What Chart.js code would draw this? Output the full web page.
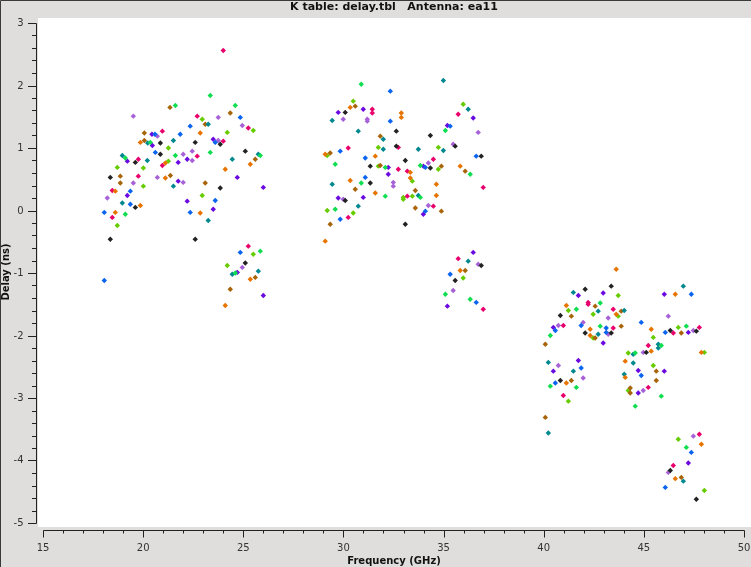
<!DOCTYPE html>
<html>
<head>
<meta charset="utf-8">
<script src="https://cdn.jsdelivr.net/npm/chart.js@4/dist/chart.umd.min.js"></script>
<style>
  html, body { margin: 0; padding: 0; background: #dfdedd; }
  #wrap { width: 751px; height: 567px; }
</style>
</head>
<body>
<div id="wrap"><canvas id="c" width="751" height="567"></canvas></div>
<script>
// ---------------- data ----------------
const chartTitle = "K table: delay.tbl   Antenna: ea11";
const xTitle = "Frequency (GHz)";
const yTitle = "Delay (ns)";
const xTickLabels = [15, 20, 25, 30, 35, 40, 45, 50];
const yTickLabels = [-5, -4, -3, -2, -1, 0, 1, 2, 3];

const blueFreq  = [24.85,22.35,20.59,21.85,23.60,20.61,19.36,19.36,23.60,18.06,22.35,24.85,18.06,
                   32.34,32.34,35.33,29.84,31.09,36.63,34.09,31.09,34.09,29.84,35.33,36.63,
                   41.87,40.58,43.12,43.12,44.87,47.37,46.07,44.87,41.87,40.58,47.37,46.07];
const blueDelay = [1.49,1.35,1.22,1.22,1.09,0.93,0.31,0.10,0.16,-0.03,-0.03,-0.67,-1.12,
                   1.91,1.43,1.35,0.95,0.84,0.87,0.69,0.53,-0.01,-0.14,-1.02,-1.47,
                   -1.84,-1.92,-1.88,-1.95,-1.79,-1.34,-1.95,-2.64,-2.52,-2.76,-3.87,-4.43];

const orangeFreq  = [22.85,19.86,21.11,25.35,24.10,21.11,18.61,19.86,18.61,22.85,25.35,24.10,
                     30.34,32.89,32.89,29.09,31.59,33.34,35.83,30.34,33.34,34.64,31.59,34.64,29.09,35.83,
                     43.62,41.13,43.62,42.32,42.32,45.37,45.37,46.57,47.87,44.07,44.07,41.13,47.87,46.57];
const orangeDelay = [1.24,1.09,0.76,0.74,0.66,0.52,0.31,0.08,-0.03,-0.04,-1.10,-1.52,
                     1.65,1.56,1.49,0.90,0.87,0.61,0.71,0.48,0.52,0.42,0.28,0.24,-0.49,-0.96,
                     -0.94,-1.52,-1.66,-1.90,-2.00,-1.90,-2.25,-1.34,-2.27,-2.41,-2.67,-2.76,-3.74,-4.29];

const blackFreq  = [20.86,22.60,23.85,20.86,25.10,19.61,18.36,23.85,19.61,18.36,22.60,25.10,
                    30.09,32.64,34.34,32.64,35.58,33.09,36.88,31.34,34.34,31.34,30.09,33.09,36.88,35.58,
                    42.07,43.37,40.83,43.37,42.07,45.12,46.32,47.62,40.83,46.32,47.62];
const blackDelay = [1.08,1.09,1.06,0.90,0.95,0.77,0.53,0.36,0.05,-0.46,-0.46,-0.84,
                    1.57,1.27,1.20,1.03,1.03,0.80,0.87,0.71,0.68,0.44,0.16,-0.22,-0.88,-1.12,
                    -1.26,-1.21,-1.68,-1.96,-1.96,-2.27,-1.92,-1.93,-2.72,-4.16,-4.62];

const greenFreq  = [23.35,21.61,24.60,20.36,21.61,23.35,25.85,19.11,19.11,25.85,24.60,
                    30.89,35.09,29.59,32.09,33.84,36.33,30.89,32.09,33.84,29.59,35.09,36.33,
                    41.63,42.82,42.82,40.33,45.87,44.57,47.12,45.87,44.57,40.33,41.63,47.12];
const greenDelay = [1.84,1.68,1.68,1.09,0.88,0.93,0.88,0.84,-0.06,-0.65,-1.00,
                    2.02,1.28,0.74,0.69,0.72,0.58,0.44,0.23,0.21,0.02,-1.34,-1.42,
                    -1.58,-1.48,-1.85,-2.00,-2.16,-2.28,-1.85,-2.97,-3.13,-2.81,-2.83,-3.79];

const pinkFreq  = [24.00,22.70,25.25,20.96,24.00,22.70,19.76,20.96,19.76,18.46,18.46,25.25,
                   31.44,31.44,35.73,30.24,32.74,34.49,32.74,33.19,36.98,33.19,34.49,30.24,35.73,36.98,
                   42.22,42.22,43.47,40.98,43.47,45.22,46.47,47.77,45.22,40.98,47.77,46.47];
const pinkDelay = [2.56,1.51,1.32,1.27,1.11,0.87,0.82,0.72,0.55,0.32,-0.11,-0.57,
                   1.62,1.56,1.54,1.00,1.01,0.82,0.66,0.63,0.37,0.23,0.07,-0.11,-0.77,-1.58,
                   -1.47,-1.50,-1.58,-1.84,-1.88,-2.16,-1.96,-1.87,-2.83,-2.96,-3.58,-4.08];

const purpleFreq  = [20.44,20.46,23.50,19.21,21.75,22.20,21.75,24.70,26.00,19.21,22.20,23.50,24.70,26.00,
                     29.74,30.99,36.48,35.19,32.24,33.99,32.24,29.74,30.99,33.99,36.48,35.19,
                     41.73,42.97,40.48,42.97,46.02,47.22,44.72,46.02,44.72,41.73,40.48,47.22];
const purpleDelay = [1.22,1.04,1.14,0.79,0.77,0.82,0.47,0.53,0.37,0.24,0.15,0.02,-0.99,-1.36,
                     1.57,1.62,1.48,1.36,0.69,0.71,0.58,0.20,0.21,-0.06,-0.67,-1.53,
                     -1.36,-1.32,-1.87,-2.12,-1.34,-1.95,-2.56,-2.57,-2.92,-2.40,-2.57,-4.04];

const lavenderFreq  = [19.51,23.75,24.95,20.71,23.75,22.00,22.45,22.45,20.71,22.00,19.51,18.21,24.95,
                       29.99,31.19,31.19,36.73,35.48,34.24,32.49,32.49,29.99,34.24,36.73,35.48,
                       43.22,41.97,40.73,43.22,44.97,46.22,47.47,44.97,40.73,41.97,47.47,46.22];
const lavenderDelay = [1.51,1.49,1.36,1.19,1.12,0.90,0.95,0.80,0.53,0.45,0.44,0.20,-0.91,
                       1.46,1.46,1.43,1.25,1.06,0.76,0.45,0.39,0.18,0.08,-0.86,-1.28,
                       -1.72,-1.79,-1.84,-1.98,-2.27,-1.69,-1.92,-2.88,-2.48,-2.68,-3.61,-4.19];

const tealFreq  = [23.25,20.23,21.51,25.75,24.45,18.96,20.21,21.51,18.96,23.25,24.45,25.75,
                   34.99,36.23,29.44,30.74,31.99,31.99,33.74,34.99,29.44,33.74,30.74,36.23,
                   41.48,42.72,44.02,42.72,45.72,45.72,44.47,46.97,44.47,44.02,40.23,41.48,40.23,46.97];
const tealDelay = [1.38,1.08,1.12,0.90,0.82,0.88,0.80,0.39,0.12,-0.16,-1.02,-0.97,
                   2.08,1.62,1.44,1.27,1.14,0.98,0.98,0.96,0.42,0.24,0.07,-0.81,
                   -1.31,-1.61,-1.60,-1.98,-2.14,-2.20,-2.30,-1.21,-2.44,-2.62,-2.43,-2.57,-3.56,-4.33];

const brownFreq  = [21.34,24.35,23.10,20.06,20.06,25.60,18.86,21.36,23.10,18.86,25.60,24.35,
                    30.59,31.84,29.34,31.84,34.89,36.08,30.59,33.59,33.59,34.89,29.34,36.08,
                    42.57,41.38,43.87,43.87,42.57,40.08,46.87,45.62,45.62,44.32,44.32,41.38,40.08,46.87];
const brownDelay = [1.65,1.56,1.38,1.24,1.12,0.82,0.55,0.56,0.44,0.44,-1.07,-1.26,
                    1.67,1.19,0.92,0.72,0.71,0.63,0.34,0.32,0.04,-0.01,-0.22,-0.96,
                    -1.53,-1.69,-1.61,-1.85,-2.04,-2.14,-1.96,-2.57,-2.72,-2.84,-2.92,-2.72,-3.31,-4.27];

const limeFreq  = [22.95,25.50,24.20,21.26,21.26,18.71,20.01,20.01,22.95,18.71,25.50,24.20,
                   30.49,35.98,31.74,34.74,29.19,31.74,34.74,33.44,32.99,32.99,33.44,29.19,30.49,35.98,
                   43.72,41.23,43.72,42.47,42.47,45.47,44.22,46.72,48.02,45.47,44.22,41.23,46.72,48.02];
const limeDelay = [1.46,1.28,1.25,1.00,0.79,0.69,0.68,0.39,0.24,-0.24,-0.70,-0.88,
                   1.75,1.70,1.01,1.01,0.88,0.71,0.66,0.47,0.21,0.18,0.23,0.00,-0.04,-1.08,
                   -1.36,-1.60,-1.69,-1.66,-2.04,-2.03,-2.28,-1.87,-2.27,-2.48,-2.88,-3.05,-3.66,-4.48];

// ---------------- styling ----------------
const BG = '#dfdedd';
const AXIS = '#222222';
const FONT = '"DejaVu Sans", sans-serif';

const seriesList = [
  {name: 'blue',     freq: blueFreq,     delay: blueDelay,     color: '#0a64f0'},
  {name: 'orange',   freq: orangeFreq,   delay: orangeDelay,   color: '#e87400'},
  {name: 'black',    freq: blackFreq,    delay: blackDelay,    color: '#222222'},
  {name: 'green',    freq: greenFreq,    delay: greenDelay,    color: '#10dd50'},
  {name: 'pink',     freq: pinkFreq,     delay: pinkDelay,     color: '#e8006c'},
  {name: 'purple',   freq: purpleFreq,   delay: purpleDelay,   color: '#6a0ae0'},
  {name: 'lavender', freq: lavenderFreq, delay: lavenderDelay, color: '#a862d8'},
  {name: 'teal',     freq: tealFreq,     delay: tealDelay,     color: '#00888f'},
  {name: 'brown',    freq: brownFreq,    delay: brownDelay,    color: '#a86408'},
  {name: 'lime',     freq: limeFreq,     delay: limeDelay,     color: '#66cc00'}
];

const datasets = seriesList.map(s => ({
  label: s.name,
  data: s.freq.map((f, i) => ({x: f, y: s.delay[i]})),
  pointStyle: 'rectRot',
  pointRadius: 2.7,
  pointBorderWidth: 0,
  backgroundColor: s.color,
  borderColor: s.color,
  showLine: false
}));

const X_MIN = 15, X_MAX = 50, Y_MIN = -5, Y_MAX = 3;

const framePlugin = {
  id: 'frame',
  beforeDraw(chart) {
    const {ctx, chartArea: a, width, height} = chart;
    ctx.save();
    ctx.fillStyle = BG;
    ctx.fillRect(0, 0, width, height);
    ctx.fillStyle = '#ffffff';
    ctx.fillRect(a.left, a.top, a.right - a.left, a.bottom - a.top);
    ctx.strokeStyle = '#3a3a3a';
    ctx.lineWidth = 1;
    ctx.beginPath();
    ctx.moveTo(0.5, height); ctx.lineTo(0.5, 0.5); ctx.lineTo(width, 0.5);
    ctx.stroke();
    ctx.restore();
  },
  afterDraw(chart) {
    const {ctx, chartArea: a} = chart;
    const xs = chart.scales.x, ys = chart.scales.y;
    ctx.save();
    ctx.strokeStyle = AXIS;
    ctx.fillStyle = '#333333';
    ctx.lineWidth = 1;

    // ---- Y axis (left of panel) ----
    const yAxisX = a.left - 1.5;
    const yT = Math.round(ys.getPixelForValue(Y_MAX)) + 0.5;
    const yB = Math.round(ys.getPixelForValue(Y_MIN)) + 0.5;
    ctx.beginPath();
    ctx.moveTo(yAxisX, yT); ctx.lineTo(yAxisX, yB);
    const nMinorY = Math.round((Y_MAX - Y_MIN) / 0.2);
    for (let i = 0; i <= nMinorY; i++) {
      const v = Y_MIN + i * 0.2;
      const p = Math.round(ys.getPixelForValue(v)) + 0.5;
      const major = (i % 5 === 0);
      ctx.moveTo(yAxisX - (major ? 8.5 : 4.5), p);
      ctx.lineTo(yAxisX, p);
    }
    ctx.stroke();
    ctx.font = '10px ' + FONT;
    ctx.textAlign = 'right';
    ctx.textBaseline = 'middle';
    yTickLabels.forEach(v => {
      ctx.fillText(String(v), yAxisX - 13, Math.round(ys.getPixelForValue(v)) + 0.5);
    });

    // ---- X axis (below panel) ----
    const xAxisY = a.bottom + 3.5;
    const xL = Math.round(xs.getPixelForValue(X_MIN)) + 0.5;
    const xR = Math.round(xs.getPixelForValue(X_MAX)) + 0.5;
    ctx.beginPath();
    ctx.moveTo(xL, xAxisY); ctx.lineTo(xR, xAxisY);
    for (let v = X_MIN; v <= X_MAX; v++) {
      const p = Math.round(xs.getPixelForValue(v)) + 0.5;
      const major = (v % 5 === 0);
      ctx.moveTo(p, xAxisY);
      ctx.lineTo(p, xAxisY + (major ? 7 : 3));
    }
    ctx.stroke();
    ctx.textAlign = 'center';
    ctx.textBaseline = 'middle';
    xTickLabels.forEach(v => {
      ctx.fillText(String(v), xs.getPixelForValue(v), xAxisY + 17.5);
    });

    // ---- titles ----
    ctx.fillStyle = '#111111';
    ctx.textAlign = 'center';
    ctx.textBaseline = 'middle';
    ctx.font = 'bold 11px ' + FONT;
    ctx.fillText(chartTitle, 394, 7.5);
    ctx.font = 'bold 10px ' + FONT;
    ctx.fillText(xTitle, (xL + xR) / 2, 561);
    ctx.save();
    ctx.translate(6.5, 272);
    ctx.rotate(-Math.PI / 2);
    ctx.fillText(yTitle, 0, 0);
    ctx.restore();
    ctx.restore();
  }
};

// white panel spans x 38..751, y 18..527; data 15..50 / -5..3 maps to 43..744 / 523..23
const PX_PER_GHZ = 701 / 35;
const PX_PER_NS = 500 / 8;

new Chart(document.getElementById('c'), {
  type: 'scatter',
  data: {datasets},
  options: {
    responsive: false,
    animation: false,
    devicePixelRatio: 1,
    events: [],
    layout: {autoPadding: false, padding: {left: 38, right: 0, top: 18, bottom: 40}},
    plugins: {legend: {display: false}, tooltip: {enabled: false}, title: {display: false}},
    scales: {
      x: {type: 'linear', display: false,
          min: X_MIN - 5 / PX_PER_GHZ, max: X_MAX + 7 / PX_PER_GHZ},
      y: {type: 'linear', display: false,
          min: Y_MIN - 4 / PX_PER_NS, max: Y_MAX + 5 / PX_PER_NS}
    }
  },
  plugins: [framePlugin]
});
</script>
</body>
</html>
